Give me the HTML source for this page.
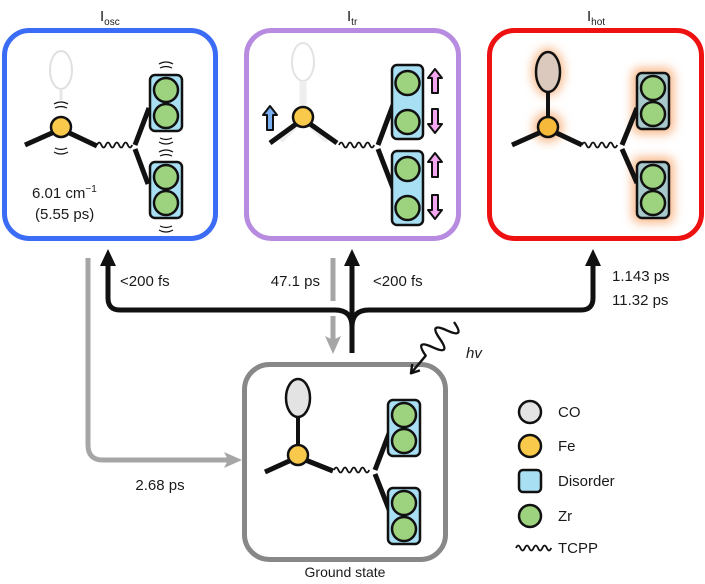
<!DOCTYPE html>
<html><head><meta charset="utf-8">
<style>html,body{margin:0;padding:0;background:#fff}svg{display:block}
text{font-family:"Liberation Sans",sans-serif;fill:#1a1a1a}</style></head>
<body>
<svg width="705" height="584" viewBox="0 0 705 584" xmlns="http://www.w3.org/2000/svg">
<defs>
<filter id="glow" x="-50%" y="-50%" width="200%" height="200%"><feGaussianBlur stdDeviation="5"/></filter>
<g id="zr">
 <rect x="0" y="0" width="32" height="56" rx="5" fill="#a9dff2" stroke="#111" stroke-width="2.5"/>
 <circle cx="16" cy="15" r="12" fill="#9dd27f" stroke="#111" stroke-width="2.5"/>
 <circle cx="16" cy="41" r="12" fill="#9dd27f" stroke="#111" stroke-width="2.5"/>
</g>
<g id="zrh">
 <rect x="0" y="0" width="32" height="56" rx="5" fill="#a8c9cc" stroke="#111" stroke-width="2.5"/>
 <circle cx="16" cy="15" r="12" fill="#9dd27f" stroke="#111" stroke-width="2.5"/>
 <circle cx="16" cy="41" r="12" fill="#9dd27f" stroke="#111" stroke-width="2.5"/>
</g>
<g id="zrt">
 <rect x="0" y="0" width="31" height="74" rx="5" fill="#a9dff2" stroke="#111" stroke-width="2.5"/>
 <circle cx="15.5" cy="18" r="12" fill="#9dd27f" stroke="#111" stroke-width="2.5"/>
 <circle cx="15.5" cy="57" r="12" fill="#9dd27f" stroke="#111" stroke-width="2.5"/>
</g>
<path id="wv" d="M0,0 q2.2,-5 4.4,0 t4.4,0 t4.4,0 t4.4,0 t4.4,0 t4.4,0 t4.4,0 t4.4,0" fill="none" stroke="#111" stroke-width="1.8"/>
<g id="up"><path d="M0,-12 L7,-3 L3,-3 L3,12 L-3,12 L-3,-3 L-7,-3 Z" stroke="#111" stroke-width="2" stroke-linejoin="round"/></g>
<g id="vib" fill="none" stroke="#111" stroke-width="1.2">
 <path d="M-7,-2 Q0,-6 7,-2"/><path d="M-6,2 Q0,-1 6,2"/>
</g>
</defs>

<!-- titles -->
<text x="100" y="21" font-size="15">I<tspan font-size="10" dy="4">osc</tspan></text>
<text x="347" y="21" font-size="15">I<tspan font-size="10" dy="4">tr</tspan></text>
<text x="587" y="21" font-size="15">I<tspan font-size="10" dy="4">hot</tspan></text>

<!-- boxes -->
<rect x="4.5" y="30.5" width="211" height="208" rx="25" fill="none" stroke="#3b6cf5" stroke-width="5"/>
<rect x="246.5" y="30.5" width="212" height="208" rx="25" fill="none" stroke="#b78ce0" stroke-width="5"/>
<rect x="489.5" y="30.5" width="212" height="208" rx="25" fill="none" stroke="#ee1111" stroke-width="5"/>
<rect x="244.5" y="364.5" width="201" height="195" rx="25" fill="none" stroke="#888" stroke-width="5"/>

<!-- BLUE -->
<ellipse cx="61" cy="70" rx="11" ry="19" fill="none" stroke="#e0e0e0" stroke-width="2"/>
<line x1="61" y1="89" x2="61" y2="100" stroke="#e6e6e6" stroke-width="3"/>
<line x1="25" y1="145" x2="61" y2="129" stroke="#111" stroke-width="5"/>
<line x1="97" y1="146" x2="61" y2="129" stroke="#111" stroke-width="5"/>
<circle cx="61" cy="127" r="10" fill="#f8c94a" stroke="#111" stroke-width="2.5"/>
<use href="#vib" x="61" y="106"/>
<use href="#vib" x="61" y="150" transform="rotate(180 61 150)"/>
<use href="#wv" x="97" y="145"/>
<line x1="135" y1="145" x2="149" y2="108" stroke="#111" stroke-width="5"/>
<line x1="135" y1="149" x2="148" y2="184" stroke="#111" stroke-width="5"/>
<use href="#vib" x="166" y="66"/>
<use href="#vib" x="166" y="140" transform="rotate(180 166 140)"/>
<use href="#vib" x="166" y="154"/>
<use href="#vib" x="166" y="228" transform="rotate(180 166 228)"/>
<use href="#zr" x="150" y="75"/>
<use href="#zr" x="150" y="162"/>
<text x="32" y="198" font-size="15">6.01 cm<tspan font-size="10" dy="-6">−1</tspan></text>
<text x="35" y="219" font-size="15">(5.55 ps)</text>

<!-- PURPLE -->
<ellipse cx="303" cy="62" rx="11" ry="19" fill="none" stroke="#e3e3e3" stroke-width="2"/>
<path d="M303,81 L303,108 M280,140 L303,118 L328,140" fill="none" stroke="#eeeeee" stroke-width="7"/>
<line x1="270" y1="143" x2="303" y2="119" stroke="#111" stroke-width="5"/>
<line x1="337" y1="143" x2="303" y2="119" stroke="#111" stroke-width="5"/>
<circle cx="303" cy="117" r="10" fill="#f8c94a" stroke="#111" stroke-width="2.5"/>
<use href="#up" x="270" y="118" fill="#79aef0"/>
<use href="#wv" x="339" y="145"/>
<line x1="378" y1="145" x2="393" y2="105" stroke="#111" stroke-width="5"/>
<line x1="378" y1="149" x2="393" y2="188" stroke="#111" stroke-width="5"/>
<use href="#zrt" x="392" y="65"/>
<use href="#zrt" x="392" y="151"/>
<use href="#up" x="435" y="81" fill="#f5a6f0"/>
<use href="#up" x="435" y="121" fill="#f5a6f0" transform="rotate(180 435 121)"/>
<use href="#up" x="435" y="165" fill="#f5a6f0"/>
<use href="#up" x="435" y="207" fill="#f5a6f0" transform="rotate(180 435 207)"/>

<!-- RED -->
<g filter="url(#glow)" fill="#f6a56a" opacity="0.8">
 <ellipse cx="548" cy="72" rx="16" ry="24"/>
 <circle cx="548" cy="127" r="15"/>
 <rect x="632" y="68" width="42" height="66" rx="8"/>
 <rect x="632" y="157" width="42" height="66" rx="8"/>
</g>
<line x1="548" y1="90" x2="548" y2="118" stroke="#111" stroke-width="4"/>
<ellipse cx="548" cy="72" rx="12" ry="20" fill="#dcc9bd" stroke="#111" stroke-width="2.5"/>
<line x1="512" y1="145" x2="548" y2="129" stroke="#111" stroke-width="5"/>
<line x1="582" y1="145" x2="548" y2="129" stroke="#111" stroke-width="5"/>
<circle cx="548" cy="127" r="10" fill="#f6b93a" stroke="#111" stroke-width="2.5"/>
<use href="#wv" x="582" y="145"/>
<line x1="622" y1="145" x2="637" y2="108" stroke="#111" stroke-width="5"/>
<line x1="622" y1="149" x2="637" y2="183" stroke="#111" stroke-width="5"/>
<use href="#zrh" x="637" y="73"/>
<use href="#zrh" x="637" y="162"/>

<!-- GROUND -->
<line x1="298" y1="415" x2="298" y2="448" stroke="#111" stroke-width="4"/>
<ellipse cx="298" cy="398" rx="12" ry="19" fill="#e3e3e3" stroke="#111" stroke-width="2.5"/>
<line x1="265" y1="472" x2="298" y2="457" stroke="#111" stroke-width="5"/>
<line x1="333" y1="471" x2="298" y2="457" stroke="#111" stroke-width="5"/>
<circle cx="298" cy="455" r="10" fill="#f8c94a" stroke="#111" stroke-width="2.5"/>
<use href="#wv" x="334" y="470"/>
<line x1="375" y1="470" x2="390" y2="431" stroke="#111" stroke-width="5"/>
<line x1="375" y1="474" x2="390" y2="512" stroke="#111" stroke-width="5"/>
<use href="#zr" x="388" y="400"/>
<use href="#zr" x="388" y="488"/>
<text x="345" y="577" font-size="14" text-anchor="middle">Ground state</text>

<!-- gray arrows -->
<path d="M88,258 L88,445 Q88,460 103,460 L228,460" fill="none" stroke="#a6a6a6" stroke-width="5"/>
<path d="M242,460 L224,452 L228,460 L224,468 Z" fill="#a6a6a6"/>
<text x="160" y="490" font-size="15" text-anchor="middle">2.68 ps</text>
<line x1="333" y1="258" x2="333" y2="301" stroke="#a6a6a6" stroke-width="5"/>
<line x1="333" y1="316" x2="333" y2="340" stroke="#a6a6a6" stroke-width="5"/>
<path d="M333,354 L325,336 L333,340 L341,336 Z" fill="#a6a6a6"/>

<!-- black arrows -->
<path d="M108,262 L108,298 Q108,310 120,310 L335,310 Q352,310 352,327 L352,353 M352,327 Q352,310 369,310 L581,310 Q593,310 593,298 L593,262 M352,353 L352,262" fill="none" stroke="#111" stroke-width="5"/>
<path d="M108,249 L100,266 L116,266 Z M352,249 L344,266 L360,266 Z M593,249 L585,266 L601,266 Z" fill="#111"/>
<text x="120" y="286" font-size="15">&lt;200 fs</text>
<text x="320" y="286" font-size="15" text-anchor="end">47.1 ps</text>
<text x="373" y="286" font-size="15">&lt;200 fs</text>
<text x="612" y="281" font-size="15">1.143 ps</text>
<text x="612" y="305" font-size="15">11.32 ps</text>

<!-- hv -->
<g transform="translate(454,322) rotate(130)" fill="none" stroke="#111" stroke-width="2.4" stroke-linejoin="round">
 <path d="M0,0 Q5.5,-20 11,0 T22,0 T33,0 T44,0 L66,0"/>
 <path d="M59,-5 L67,0 L59,5"/>
</g>
<text x="466" y="358" font-size="15" font-style="italic">hv</text>

<!-- legend -->
<circle cx="530" cy="412" r="11" fill="#e3e3e3" stroke="#111" stroke-width="2.5"/>
<circle cx="530" cy="446" r="11" fill="#f8c94a" stroke="#111" stroke-width="2.5"/>
<rect x="519" y="470" width="22" height="22" rx="4" fill="#a9dff2" stroke="#111" stroke-width="2.5"/>
<circle cx="530" cy="516" r="11" fill="#9dd27f" stroke="#111" stroke-width="2.5"/>
<use href="#wv" x="516" y="548"/>
<text x="558" y="417" font-size="15">CO</text>
<text x="558" y="451" font-size="15">Fe</text>
<text x="558" y="486" font-size="15">Disorder</text>
<text x="558" y="521" font-size="15">Zr</text>
<text x="558" y="553" font-size="15">TCPP</text>
</svg>
</body></html>
